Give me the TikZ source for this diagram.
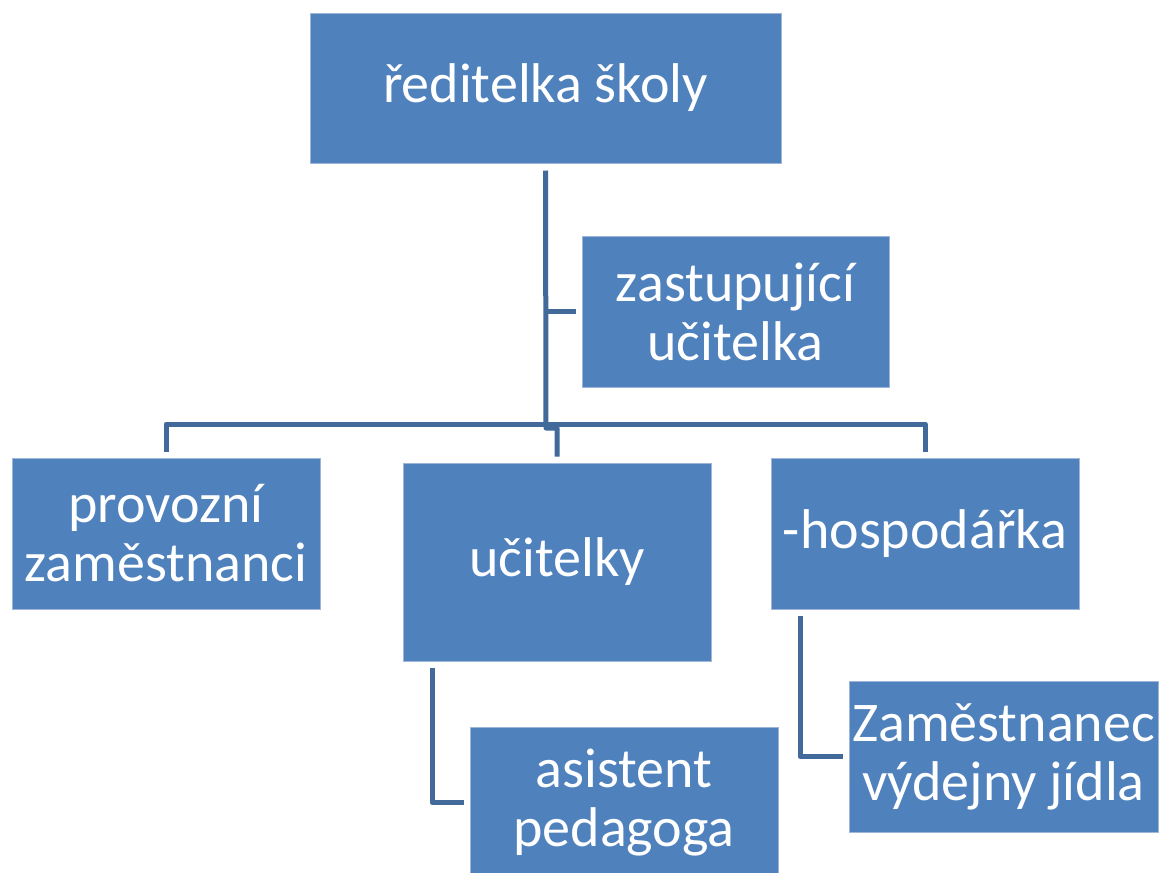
\documentclass[tikz,border=0pt]{standalone}
\usepackage{fontspec}
\setmainfont{Carlito}
\definecolor{boxfill}{HTML}{4F81BD}
\definecolor{boxedge}{HTML}{9DB6D9}
\definecolor{linecol}{HTML}{41699A}
\begin{document}
\begin{tikzpicture}[x=1pt,y=-1pt,
  orgbox/.style={rectangle, fill=boxfill, draw=boxedge, line width=1pt,
    text=white, align=center, inner sep=0pt,
    font=\fontsize{56}{59}\selectfont},
  conn/.style={draw=linecol, line width=5pt, line join=round}]
\useasboundingbox (0,0) rectangle (1165,873);
\clip (0,0) rectangle (1165,873);
\fill[white] (0,0) rectangle (1165,873);

\node[orgbox, minimum width=471pt, minimum height=150pt] (top) at (545.5,88) {ředitelka školy};
\node[orgbox, minimum width=307pt, minimum height=151pt] (zast) at (735.5,311.5) {zastupující\\učitelka};
\node[orgbox, minimum width=308pt, minimum height=151pt] (prov) at (166,533.5) {provozní\\zaměstnanci};
\node[orgbox, minimum width=308pt, minimum height=198pt] (ucit) at (557,562) {učitelky};
\node[orgbox, minimum width=308pt, minimum height=151pt] (hosp) at (925,533.5) {-hospodářka};
\node[orgbox, minimum width=308pt, minimum height=151pt] (asist) at (624,802.5) {asistent\\pedagoga};
\node[orgbox, minimum width=309pt, minimum height=151pt] (zam) at (1003.5,756.5) {Zaměstnanec\\výdejny jídla};

\coordinate (hub) at (546,424);
\coordinate (hubb) at (546,428);

\draw[conn] ([yshift=-7pt]top.south) -- (hubb) -| ([yshift=6pt]ucit.north);
\draw[conn] (top.south |- zast.west) -- ([xshift=-6pt]zast.west);
\draw[conn] (hub) -| ([yshift=6pt]prov.north);
\draw[conn] (hub) -| ([yshift=6pt]hosp.north);
\draw[conn] ([xshift=-125pt,yshift=-6pt]ucit.south) |- ([xshift=-6pt]asist.west);
\draw[conn] ([xshift=-125pt,yshift=-6pt]hosp.south) |- ([xshift=-6pt]zam.west);
\end{tikzpicture}
\end{document}
